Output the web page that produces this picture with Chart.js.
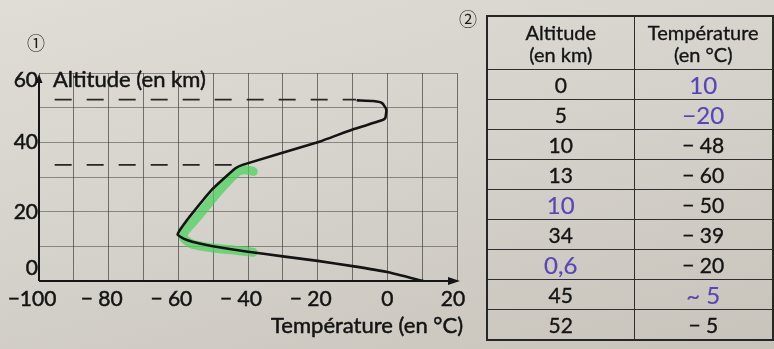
<!DOCTYPE html>
<html>
<head>
<meta charset="utf-8">
<script src="https://cdn.jsdelivr.net/npm/chart.js@4.4.0/dist/chart.umd.min.js"></script>
<style>
  html, body { margin: 0; padding: 0; }
  body {
    width: 774px; height: 349px; overflow: hidden; position: relative;
    background: linear-gradient(165deg, #dfddd6 0%, #d6d3cc 45%, #c8c4bc 100%);
    font-family: Lato, "Open Sans", sans-serif; color: #141414;
  }
  #chart { position: absolute; left: 0; top: 0; }
  .circ { position: absolute; font-family: "Noto Sans CJK JP", sans-serif; font-size: 18px; line-height: 18px; color: #1a1a1a; }
  #tbl {
    position: absolute; left: 486px; top: 15px; width: 286px;
    border-collapse: collapse; table-layout: fixed; border: 2px solid #262626;
  }
  #tbl td {
    border: 1.5px solid #2e2e2e; padding: 0; text-align: center;
    height: 29px; font-size: 21px; line-height: 21px; color: #141414;
    -webkit-text-stroke: 0.35px #141414;
  }
  #tbl tr.head td { height: 52px; font-size: 20px; line-height: 22px; }
  #tbl td.hand { color: #5646b6; font-size: 24px; -webkit-text-stroke: 0.2px #5646b6; }
</style>
</head>
<body>
<canvas id="chart" width="774" height="349"></canvas>
<div class="circ" style="left:27px; top:33px;">①</div>
<div class="circ" style="left:459px; top:9px;">②</div>
<table id="tbl"></table>
<script>
// graph 1 : temperature vs altitude
const curveTemp = [10.3, 0, -10, -20, -30, -40, -50.5, -56, -58.5, -60.2, -59.8, -58.5, -56.8, -50.5, -43.6, -41.6, -20, -10, -2, -0.6, -0.3, -1.5, -4, -8.5];
const curveAlt  = [0, 2.6, 4.3, 5.8, 7.1, 8.45, 10.1, 11.3, 12.2, 13.4, 14.3, 16.2, 18.5, 26.2, 32.5, 33.5, 40, 43.7, 46.2, 47, 49.5, 51.3, 51.9, 52.1];

// green highlighter stroke
const highlightTemp = [-38.5, -41, -43, -48.5, -54.5, -58.2, -58.6, -56, -50, -44, -38.5];
const highlightAlt  = [31.6, 32.1, 31.5, 25.8, 18.5, 14.2, 12.5, 10.6, 9.5, 8.9, 8.3];

// dashed levels
const dashAlts = [52.3, 33.5];
const dashFrom = [-95.5, -95.5];
const dashTo   = [-9, -42];

// ticks
const xTickValues = [-100, -80, -60, -40, -20, 0, 20];
const xTickLabels = ['\u2212100', '\u2212 80', '\u2212 60', '\u2212 40', '\u2212 20', '0', '20'];
const yTickValues = [0, 20, 40, 60];
const yTickLabels = ['0', '20', '40', '60'];

// table 2
const tableHead = ['Altitude<br>(en km)', 'Température<br>(en °C)'];
const tableAlt  = ['0', '5', '10', '13', '10', '34', '0,6', '45', '52'];
const tableTemp = ['10', '\u221220', '\u2212 48', '\u2212 60', '\u2212 50', '\u2212 39', '\u2212 20', '~ 5', '\u2212 5'];
const altHand   = [false, false, false, false, true, false, true, false, false];
const tempHand  = [true, true, false, false, false, false, false, true, false];

// build table
const tbl = document.getElementById('tbl');
let html = '<colgroup><col style="width:147px"><col style="width:139px"></colgroup>';
html += '<tr class="head"><td>' + tableHead[0] + '</td><td>' + tableHead[1] + '</td></tr>';
for (let i = 0; i < tableAlt.length; i++) {
  html += '<tr><td class="' + (altHand[i] ? 'hand' : '') + '">' + tableAlt[i] + '</td>' +
          '<td class="' + (tempHand[i] ? 'hand' : '') + '">' + tableTemp[i] + '</td></tr>';
}
tbl.innerHTML = html;

function pts(xs, ys) { return xs.map((v, i) => ({x: v, y: ys[i]})); }

const dashSets = dashAlts.map((a, i) => ({
  data: [{x: dashFrom[i], y: a}, {x: dashTo[i], y: a}],
  borderColor: '#262626', borderWidth: 1.7, borderDash: [17, 15],
  pointRadius: 0, showLine: true, order: 3
}));

// heavier print look: fill + thin stroke
function inkText(ctx, s, px, py) {
  ctx.fillText(s, px, py);
  ctx.strokeText(s, px, py);
}

const decor = {
  id: 'decor',
  afterDraw(chart) {
    const ctx = chart.ctx;
    const x = chart.scales.x, y = chart.scales.y;
    const ax = x.getPixelForValue(-100), ay = y.getPixelForValue(0);
    const xEnd = x.getPixelForValue(20), yTop = y.getPixelForValue(60);
    ctx.save();
    ctx.strokeStyle = '#151515';
    ctx.fillStyle = '#151515';
    ctx.lineWidth = 2;
    // x axis
    ctx.beginPath(); ctx.moveTo(ax, ay); ctx.lineTo(xEnd - 4, ay); ctx.stroke();
    ctx.beginPath(); ctx.moveTo(xEnd + 3, ay); ctx.lineTo(xEnd - 9, ay - 4); ctx.lineTo(xEnd - 9, ay + 4); ctx.closePath(); ctx.fill();
    // y axis
    ctx.beginPath(); ctx.moveTo(ax, ay); ctx.lineTo(ax, yTop + 8); ctx.stroke();
    ctx.beginPath(); ctx.moveTo(ax, yTop + 1); ctx.lineTo(ax - 3.5, yTop + 10); ctx.lineTo(ax + 3.5, yTop + 10); ctx.closePath(); ctx.fill();

    ctx.fillStyle = '#141414';
    ctx.strokeStyle = '#141414';
    ctx.lineWidth = 0.5;
    ctx.font = '21px Lato';
    ctx.textBaseline = 'alphabetic';
    ctx.textAlign = 'center';
    xTickValues.forEach((v, i) => {
      const shift = v < 0 ? -7 : (v > 0 ? -4 : 0);
      inkText(ctx, xTickLabels[i], x.getPixelForValue(v) + shift, ay + 25);
    });
    ctx.textAlign = 'right';
    const yShift = {0: -6, 20: 7, 40: 7, 60: 14};
    yTickValues.forEach((v, i) => {
      inkText(ctx, yTickLabels[i], ax - 1, y.getPixelForValue(v) + yShift[v]);
    });
    ctx.font = '22px Lato';
    ctx.textAlign = 'left';
    inkText(ctx, 'Altitude (en km)', ax + 14, yTop + 14);
    ctx.textAlign = 'right';
    inkText(ctx, 'Température (en °C)', xEnd + 6, ay + 52);
    ctx.restore();
  }
};

new Chart(document.getElementById('chart'), {
  type: 'scatter',
  data: {
    datasets: [
      {
        data: pts(curveTemp, curveAlt), showLine: true, borderColor: '#141414',
        borderWidth: 2.6, pointRadius: 0, tension: 0.15, order: 1,
        borderJoinStyle: 'round', borderCapStyle: 'round'
      },
      {
        data: pts(highlightTemp, highlightAlt), showLine: true, borderColor: 'rgba(70, 210, 90, 0.72)',
        borderWidth: 9, pointRadius: 0, tension: 0.2, order: 2,
        borderJoinStyle: 'round', borderCapStyle: 'round'
      },
      ...dashSets
    ]
  },
  options: {
    responsive: false, animation: false, devicePixelRatio: 1,
    layout: { padding: { left: 39, right: 317, top: 73, bottom: 68 } },
    plugins: { legend: { display: false }, tooltip: { enabled: false } },
    scales: {
      x: {
        type: 'linear', min: -100, max: 20,
        ticks: { display: false, stepSize: 10 },
        grid: { color: 'rgba(50, 47, 43, 0.62)', lineWidth: 1, drawTicks: false },
        border: { display: false }
      },
      y: {
        type: 'linear', min: 0, max: 60,
        ticks: { display: false, stepSize: 10 },
        grid: { color: 'rgba(65, 61, 56, 0.52)', lineWidth: 1, drawTicks: false },
        border: { display: false }
      }
    }
  },
  plugins: [decor]
});
</script>
</body>
</html>
